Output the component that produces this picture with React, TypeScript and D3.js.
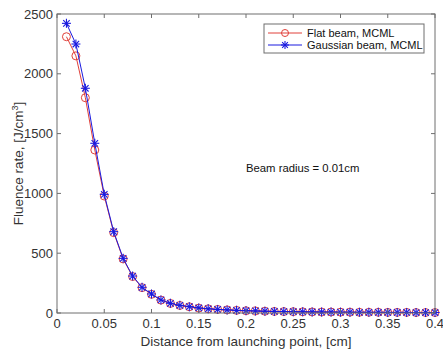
import React from "react";
import * as d3 from "d3";

const distances = d3.range(1, 41).map((i) => i / 100);
const flatBeam = [2310, 2150, 1800, 1363, 978, 672, 452, 305, 212, 156, 108, 80, 63, 52, 41, 35, 30, 26, 22, 19, 17, 15, 13, 12, 11, 10, 9, 8, 8, 7, 7, 6, 6, 6, 5, 5, 5, 4, 4, 4];
const gaussianBeam = [2422, 2249, 1879, 1419, 992, 680, 457, 309, 215, 159, 109, 81, 64, 53, 42, 35, 30, 26, 22, 19, 17, 15, 13, 12, 11, 10, 9, 8, 8, 7, 7, 6, 6, 6, 5, 5, 5, 4, 4, 4];
const xTicks = [0, 0.05, 0.1, 0.15, 0.2, 0.25, 0.3, 0.35, 0.4];
const yTicks = [0, 500, 1000, 1500, 2000, 2500];

export default function App() {
  const W = 443, H = 354;
  const left = 57, right = 435, top = 14, bottom = 313;
  const x = d3.scaleLinear().domain([0, 0.4]).range([left, right]);
  const y = d3.scaleLinear().domain([0, 2500]).range([bottom, top]);
  const line = d3.line<number>().x((_, i) => x(distances[i])).y((d) => y(d));
  const axisColor = "#6e6e6e";
  const textColor = "#333";
  const font = "Liberation Sans, Arial, sans-serif";
  const red = "#e0403a";
  const blue = "#1a1adf";
  const star = (cx: number, cy: number, r: number, key: any) => (
    <g key={key} stroke={blue} strokeWidth={1.1}>
      <line x1={cx - r} y1={cy} x2={cx + r} y2={cy} />
      <line x1={cx} y1={cy - r} x2={cx} y2={cy + r} />
      <line x1={cx - r * 0.72} y1={cy - r * 0.72} x2={cx + r * 0.72} y2={cy + r * 0.72} />
      <line x1={cx - r * 0.72} y1={cy + r * 0.72} x2={cx + r * 0.72} y2={cy - r * 0.72} />
    </g>
  );
  const tl = 4;
  return (
    <svg width={W} height={H} style={{ position: "absolute", left: 0, top: 0 }} fontFamily={font}>
      <rect x={0} y={0} width={W} height={H} fill="#fff" />
      <rect x={left} y={top} width={right - left} height={bottom - top} fill="#fff" />
      {/* data */}
      <path d={line(flatBeam) || ""} fill="none" stroke={red} strokeWidth={1} />
      {flatBeam.map((v, i) => (
        <circle key={"c" + i} cx={x(distances[i])} cy={y(v)} r={4} fill="none" stroke={red} strokeWidth={1} />
      ))}
      <path d={line(gaussianBeam) || ""} fill="none" stroke={blue} strokeWidth={1} />
      {gaussianBeam.map((v, i) => star(x(distances[i]), y(v), 4.5, "s" + i))}
      {/* axes box */}
      <rect x={left} y={top} width={right - left} height={bottom - top} fill="none" stroke={axisColor} strokeWidth={1} />
      {xTicks.map((t) => (
        <g key={"x" + t}>
          <line x1={x(t)} x2={x(t)} y1={bottom} y2={bottom - tl} stroke={axisColor} />
          <line x1={x(t)} x2={x(t)} y1={top} y2={top + tl} stroke={axisColor} />
          <text x={x(t)} y={bottom + 15} textAnchor="middle" fontSize={13} fill={textColor}>{t}</text>
        </g>
      ))}
      {yTicks.map((t) => (
        <g key={"y" + t}>
          <line x1={left} x2={left + tl} y1={y(t)} y2={y(t)} stroke={axisColor} />
          <line x1={right} x2={right - tl} y1={y(t)} y2={y(t)} stroke={axisColor} />
          <text x={left - 4} y={y(t) + 4.5} textAnchor="end" fontSize={13} fill={textColor}>{t}</text>
        </g>
      ))}
      <text x={(left + right) / 2} y={346} textAnchor="middle" fontSize={13.5} fill={textColor}>Distance from launching point, [cm]</text>
      <text transform={`translate(23, ${(top + bottom) / 2}) rotate(-90)`} textAnchor="middle" fontSize={13.5} fill={textColor}>
        Fluence rate, [J/cm<tspan dy={-5} fontSize={9}>3</tspan><tspan dy={5}>]</tspan>
      </text>
      <text x={246} y={172} fontSize={11.3} fill="#111">Beam radius = 0.01cm</text>
      {/* legend */}
      <rect x={264} y={24} width={160} height={29} fill="#fff" stroke={axisColor} strokeWidth={1} />
      <line x1={268} x2={302} y1={33} y2={33} stroke={red} />
      <circle cx={285} cy={33} r={3.5} fill="none" stroke={red} />
      <text x={307} y={37} fontSize={11} fill="#111">Flat beam, MCML</text>
      <line x1={268} x2={302} y1={45} y2={45} stroke={blue} />
      {star(285, 45, 4, "ls")}
      <text x={307} y={49} fontSize={11} fill="#111">Gaussian beam, MCML</text>
    </svg>
  );
}
